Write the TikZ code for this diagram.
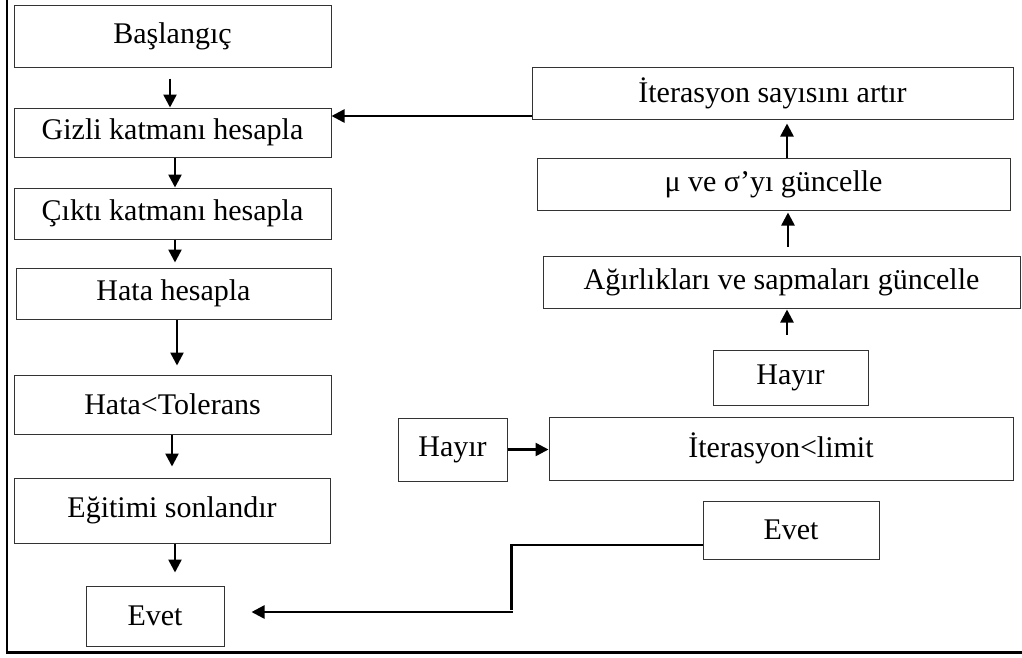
\documentclass[tikz,border=0pt]{standalone}
\usepackage{fontspec}
\setmainfont{Liberation Serif}
\usetikzlibrary{arrows.meta}

\begin{document}
\begin{tikzpicture}[x=1pt,y=-1pt,
  box/.style={draw=black!80, line width=1pt, inner sep=0pt, align=center,
    font=\fontsize{30}{35}\selectfont},
  arr/.style={line width=2.5pt,
    -{Triangle[length=13pt,width=13pt]}},
  link/.style={line width=2.5pt}]

\useasboundingbox (0,0) rectangle (1022,657);

% page frame: left and bottom rules
\draw[line width=1.2pt] (7,0) -- (7,652);
\draw[line width=3pt] (6.4,652.5) -- (1022,652.5);

% left column
\node[box, minimum width=317pt, minimum height=62pt] (n1) at (172.5,36)    {Başlangıç};
\node[box, minimum width=317pt, minimum height=49pt] (n2) at (172.5,132.5) {Gizli katmanı hesapla};
\node[box, minimum width=317pt, minimum height=51pt] (n3) at (172.5,213.5) {Çıktı katmanı hesapla};
\node[box, minimum width=315pt, minimum height=51pt] (n4) at (173.5,293.5) {Hata hesapla};
\node[box, minimum width=317pt, minimum height=59pt] (n5) at (172.5,404.5) {Hata<Tolerans};
\node[box, minimum width=316pt, minimum height=65pt] (n6) at (172,510.5)   {Eğitimi sonlandır};
\node[box, minimum width=138pt, minimum height=60pt] (n7) at (155,616)     {Evet};

% right column
\node[box, minimum width=481pt, minimum height=52pt] (r1) at (772.5,93)   {İterasyon sayısını artır};
\node[box, minimum width=473pt, minimum height=52pt] (r2) at (773.5,184)  {μ ve σ’yı güncelle};
\node[box, minimum width=477pt, minimum height=52pt] (r3) at (781.5,282)  {Ağırlıkları ve sapmaları güncelle};
\node[box, minimum width=155pt, minimum height=55pt] (r4) at (790.5,377.5) {Hayır};
\node[box, minimum width=464pt, minimum height=63pt] (r5) at (781,448.5)  {İterasyon<limit};
\node[box, minimum width=109pt, minimum height=63pt] (r6) at (452.5,449.5) {Hayır};
\node[box, minimum width=176pt, minimum height=58pt] (r7) at (791,530)    {Evet};

% left column flow
\draw[arr] ([xshift=-2.5pt,yshift=-11pt]n1.south) -- ([xshift=-2.5pt]n2.north);
\draw[arr] ([xshift=2.5pt]n2.south) -- ([xshift=2.5pt]n3.north);
\draw[arr, shorten >=5pt] ([xshift=2.5pt]n3.south) -- ([xshift=1.5pt]n4.north);
\draw[arr, shorten >=9pt] ([xshift=3.5pt]n4.south) -- ([xshift=4.5pt]n5.north);
\draw[arr, shorten >=11pt] ([xshift=-0.5pt]n5.south) -- ([xshift=0pt]n6.north);
\draw[arr, shorten >=13pt] ([xshift=3pt]n6.south) -- ([xshift=20pt]n7.north);

% right column flow (upwards)
\draw[arr, shorten >=4pt] ([xshift=13.5pt]r2.north) -- ([xshift=14.5pt]r1.south);
\draw[arr, shorten <=9pt, shorten >=2pt] ([xshift=6.5pt]r3.north) -- ([xshift=14.5pt]r2.south);
\draw[arr, shorten <=15pt, shorten >=1pt] ([xshift=-3.5pt]r4.north) -- ([xshift=5.5pt]r3.south);
\draw[arr] (r6.east) -- (r5.west |- r6.east);

% loop back to the hidden layer
\draw[arr] ([yshift=-23pt]r1.west) -- ([yshift=16.5pt]n2.east);

% exit path to the final "Evet"
\coordinate (c1) at (511.5,545);
\coordinate (c2) at (511.5,612);
\draw[link, line join=miter] (r7.west |- c1) -- (c1) -- ([yshift=2pt]c2);
\draw[arr, shorten >=27pt] ([xshift=1pt]c2) -- (n7.east |- c2);

\end{tikzpicture}
\end{document}
